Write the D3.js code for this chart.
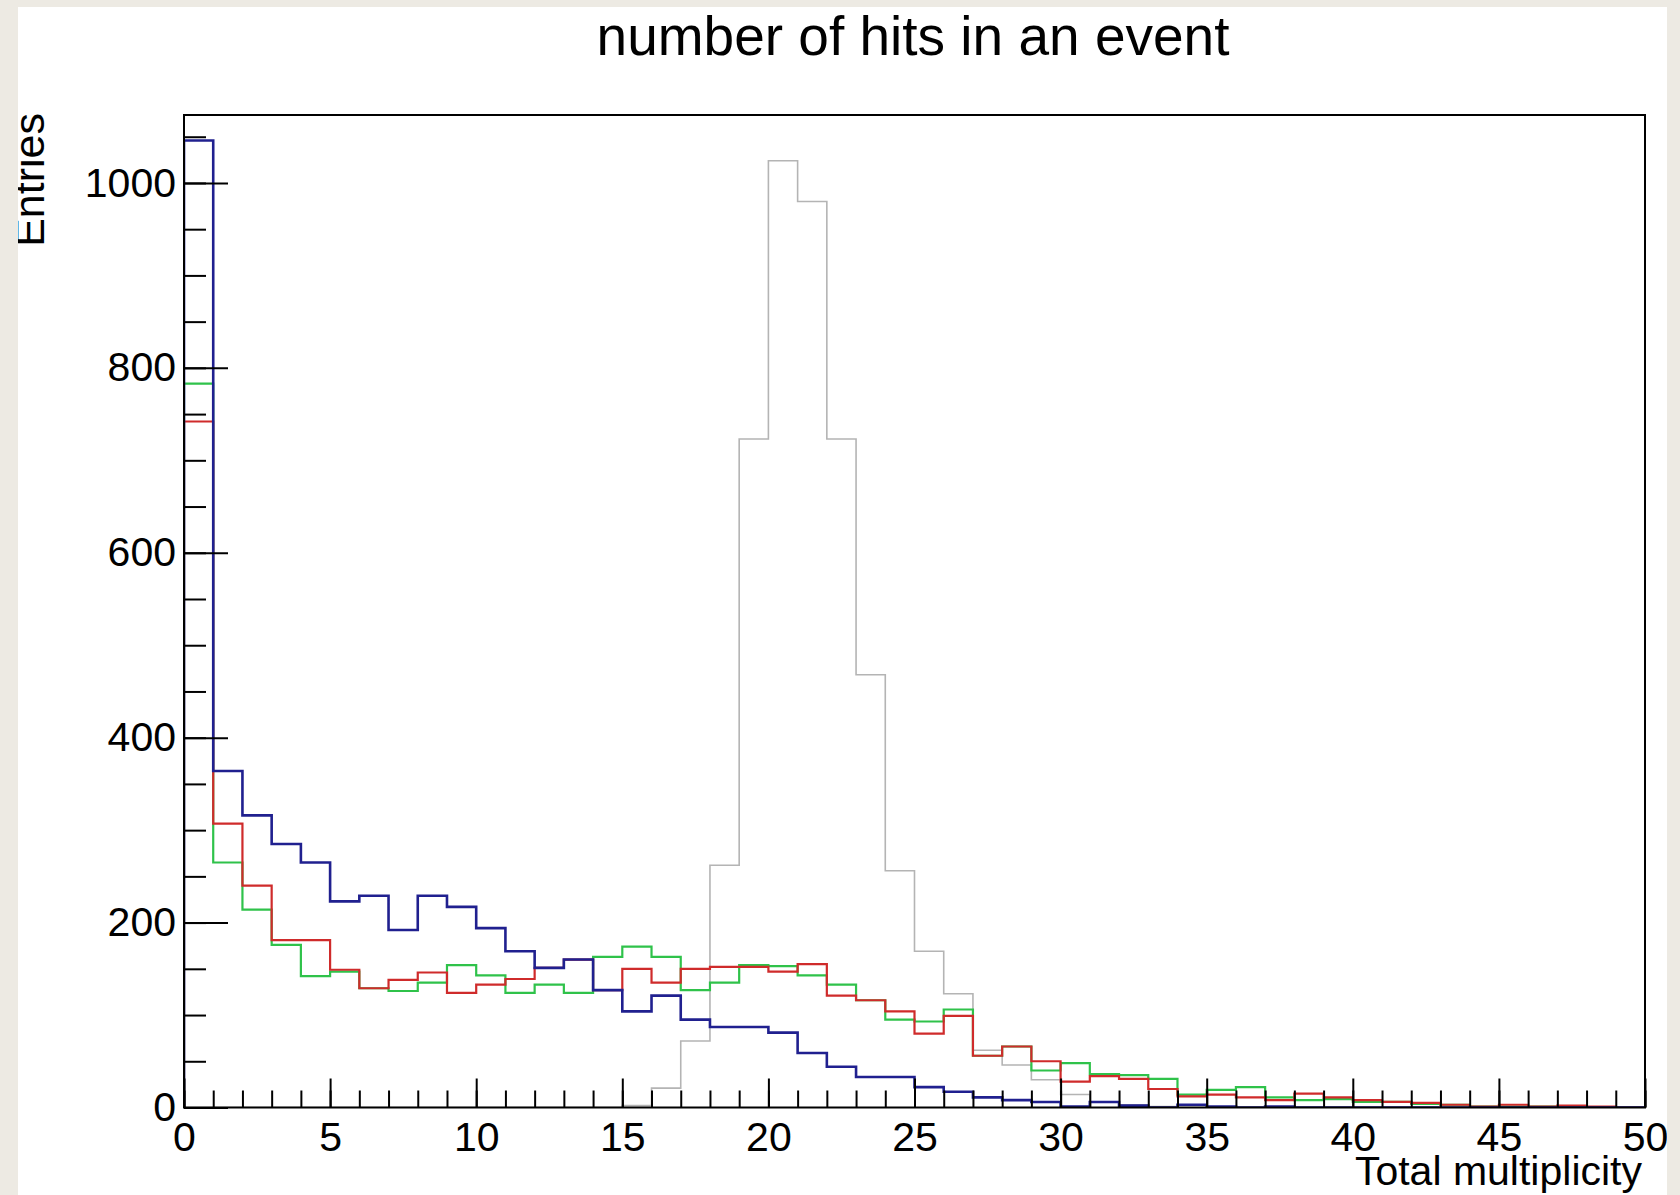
<!DOCTYPE html>
<html>
<head>
<meta charset="utf-8">
<script src="https://cdn.jsdelivr.net/npm/d3@7"></script>
<style>
  html, body { margin: 0; padding: 0; background: #edeae3; }
  svg { display: block; }
  text { font-family: "Liberation Sans", Arial, Helvetica, sans-serif; fill: #000; }
</style>
</head>
<body>
<svg id="chart" width="1680" height="1195"></svg>
<script>
// ---- data (bin i covers [i, i+1) ) ----
const binEdges = d3.range(0, 51);            // 0..50
const xTickLabels = ["0","5","10","15","20","25","30","35","40","45","50"];
const yTickLabels = ["0","200","400","600","800","1000"];

const greyValues = [0,0,0,0,0,0,0,0,0,0, 0,0,0,0,0,2,21,72,262,723,
  1024,980,723,468,256,169,123,62,46,30, 14,6,3,1,0,0,0,0,0,0, 0,0,0,0,0,0,0,0,0,0];
const greenValues = [783,265,214,176,142,147,129,126,135,154, 143,124,133,124,163,174,163,127,135,154,
  153,143,133,116,95,93,106,56,66,40, 48,36,35,31,14,19,22,11,8,9, 6,6,4,3,1,1,1,1,0,0];
const redValues = [742,307,240,181,181,149,129,138,146,124, 133,139,151,160,127,150,135,150,152,152,
  147,155,121,116,104,80,99,56,66,50, 28,34,31,20,12,14,11,8,15,11, 8,6,5,3,1,3,1,2,1,0];
const blueValues = [1046,364,316,285,265,223,229,192,229,217, 194,169,151,160,127,104,121,95,87,87,
  81,59,44,33,33,22,17,11,8,6, 1,6,2,0,3,1,0,1,0,0, 0,0,0,0,0,0,0,0,0,0];

const seriesList = [
  {name: "grey",  values: greyValues,  color: "#b4b4b4", width: 1.6},
  {name: "green", values: greenValues, color: "#2fc24a", width: 2.2},
  {name: "red",   values: redValues,   color: "#cf2b2b", width: 2.2},
  {name: "blue",  values: blueValues,  color: "#20208f", width: 2.6}
];

const titleText = "number of hits in an event";
const xTitle = "Total multiplicity";
const yTitle = "Entries";

// ---- layout ----
const W = 1680, H = 1195;
const plotL = 184, plotR = 1645, plotT = 115, plotB = 1107.5;
const xMax = 50, yMax = 1073.5;

const svg = d3.select("#chart");
svg.append("rect").attr("width", W).attr("height", H).attr("fill", "#edeae3");
const panelX = 18, panelY = 7, panelW = 1667 - 18, panelH = H - 7;
const defs = svg.append("defs");
defs.append("clipPath").attr("id", "panelClip")
  .append("rect").attr("x", panelX).attr("y", panelY).attr("width", panelW).attr("height", panelH);
defs.append("clipPath").attr("id", "plotClip")
  .append("rect").attr("x", plotL).attr("y", plotT).attr("width", plotR - plotL).attr("height", plotB - plotT);

const g = svg.append("g").attr("clip-path", "url(#panelClip)");
g.append("rect").attr("x", panelX).attr("y", panelY).attr("width", panelW).attr("height", panelH).attr("fill", "#fff");

const x = d3.scaleLinear().domain([0, xMax]).range([plotL, plotR]);
const y = d3.scaleLinear().domain([0, yMax]).range([plotB, plotT]);

// histograms
const line = d3.line().x(d => x(d[0])).y(d => y(d[1]));
const hg = g.append("g").attr("clip-path", "url(#plotClip)");
seriesList.forEach(s => {
  const pts = [[0, 0]];
  s.values.forEach((v, i) => { pts.push([binEdges[i], v]); pts.push([binEdges[i + 1], v]); });
  pts.push([xMax, 0]);
  hg.append("path").attr("d", line(pts))
    .attr("fill", "none").attr("stroke", s.color).attr("stroke-width", s.width)
    .attr("stroke-linejoin", "miter");
});

// axes
const fontSize = 41;
const yMajor = yTickLabels.map(Number);
const yMinor = d3.range(0, yMax, 50);
const xMajor = xTickLabels.map(Number);
const xMinor = d3.range(0, xMax + 0.5, 1);

function styleAxis(sel) {
  sel.select(".domain").remove();
  sel.selectAll(".tick line").attr("stroke", "#000").attr("stroke-width", 2);
  sel.selectAll(".tick text").attr("font-size", fontSize).attr("fill", "#000")
     .attr("font-family", "\"Liberation Sans\", Arial, Helvetica, sans-serif");
}

g.append("g").attr("transform", `translate(${plotL},0)`)
  .call(d3.axisLeft(y).tickValues(yMinor).tickSizeInner(-22).tickSizeOuter(0).tickFormat(""))
  .call(styleAxis);
g.append("g").attr("transform", `translate(${plotL},0)`)
  .call(d3.axisLeft(y).tickValues(yMajor).tickSizeInner(-44).tickSizeOuter(0).tickPadding(8)
        .tickFormat((d, i) => yTickLabels[i]))
  .call(styleAxis);

g.append("g").attr("transform", `translate(0,${plotB})`)
  .call(d3.axisBottom(x).tickValues(xMinor).tickSizeInner(-17).tickSizeOuter(0).tickFormat(""))
  .call(styleAxis);
g.append("g").attr("transform", `translate(0,${plotB})`)
  .call(d3.axisBottom(x).tickValues(xMajor).tickSizeInner(-29).tickSizeOuter(0).tickPadding(14)
        .tickFormat((d, i) => xTickLabels[i]))
  .call(styleAxis);

// frame
g.append("rect").attr("x", plotL).attr("y", plotT).attr("width", plotR - plotL).attr("height", plotB - plotT)
  .attr("fill", "none").attr("stroke", "#000").attr("stroke-width", 2);

// titles
g.append("text").attr("x", 913).attr("y", 55).attr("text-anchor", "middle")
  .attr("font-size", 55).text(titleText);
g.append("text").attr("x", 1642).attr("y", 1185).attr("text-anchor", "end")
  .attr("font-size", fontSize).text(xTitle);
g.append("text").attr("transform", "translate(44,113) rotate(-90)").attr("text-anchor", "end")
  .attr("font-size", 43).text(yTitle);
</script>
</body>
</html>
